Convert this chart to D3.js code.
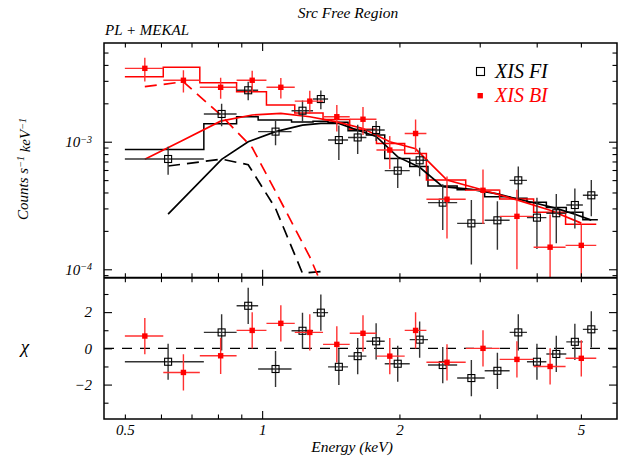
<!DOCTYPE html>
<html><head><meta charset="utf-8">
<script src="https://cdn.jsdelivr.net/npm/d3@7"></script>
<style>body{margin:0;background:#fff}svg{display:block}text{font-family:"Liberation Serif","Times New Roman","DejaVu Serif",serif;font-style:italic}</style>
</head><body>
<script>
// ---- XIS FI (black) ----
const fiE   = [0.622,0.815,0.932,1.07,1.226,1.345,1.473,1.62,1.778,1.983,2.215,2.489,2.876,3.28,3.645,4.005,4.416,4.85,5.27];
const fiLo  = [0.500,0.745,0.879,0.980,1.160,1.293,1.395,1.543,1.693,1.857,2.107,2.310,2.677,3.076,3.489,3.808,4.200,4.645,5.050];
const fiHi  = [0.745,0.879,0.980,1.160,1.293,1.395,1.543,1.693,1.857,2.107,2.310,2.677,3.076,3.489,3.808,4.200,4.645,5.050,5.447];
const fiRate= [0.732,1.65,2.53,1.20,1.75,2.16,1.03,1.08,1.235,0.593,0.715,0.333,0.229,0.242,0.498,0.254,0.275,0.319,0.380]; // x1e-3
const fiErr = [0.18,0.33,0.42,0.26,0.35,0.36,0.31,0.28,0.22,0.16,0.18,0.13,0.12,0.10,0.14,0.11,0.115,0.11,0.12];
const fiModel=[0.87,1.38,1.57,1.48,1.43,1.45,1.42,1.22,1.13,0.74,0.64,0.45,0.42,0.37,0.36,0.335,0.305,0.28,0.245];
const fiPL  = [0.271,0.728,1.0,1.2,1.35,1.39,1.39,1.23,1.1,0.76,0.63,0.445,0.423,0.39,0.354,0.328,0.30,0.27,0.243];
const fiMekal=[0.645,0.73,0.66,0.30,0.093,0.096,0.02];
const fiChi = [-0.74,0.88,2.35,-1.14,0.97,1.97,-1.02,-0.43,0.39,-0.85,0.48,-0.92,-1.64,-1.24,0.88,-0.74,-0.31,0.36,1.05];
// ---- XIS BI (red) ----
const biE   = [0.553,0.672,0.811,0.951,1.099,1.272,1.458,1.664,1.905,2.17,2.543,3.05,3.62,4.28,5.01];
const biLo  = [0.500,0.607,0.730,0.879,1.022,1.179,1.360,1.556,1.781,2.054,2.292,2.795,3.318,3.938,4.628];
const biHi  = [0.607,0.730,0.879,1.022,1.179,1.360,1.556,1.781,2.054,2.292,2.795,3.318,3.938,4.628,5.404];
const biRate= [3.76,3.03,2.67,3.03,2.67,2.08,1.57,1.50,0.86,1.16,0.354,0.416,0.260,0.149,0.154];
const biErr = [0.80,0.60,0.50,0.57,0.49,0.43,0.37,0.37,0.25,0.33,0.18,0.19,0.16,0.12,0.07];
const biModel=[3.23,3.84,2.90,2.46,1.94,1.68,1.49,1.25,0.97,0.81,0.50,0.416,0.355,0.28,0.225];
const biPL  = [0.73,1.03,1.45,1.62,1.67,1.57,1.43,1.27,1.0,0.88,0.50,0.418,0.35,0.29,0.23];
const biMekal=[2.7,2.95,1.62,0.90,0.34,0.125,0.04];
const biChi = [0.68,-1.33,-0.41,0.99,1.38,0.88,0.22,0.83,-0.43,0.99,-0.77,0.0,-0.61,-1.0,-0.55];
// ---- ticks / labels ----
const xMajor = [1];
const xMinor = [0.5,0.6,0.7,0.8,0.9,2,3,4,5];
const xLabels = [0.5,1,2,5];
const yMajor = [1e-4,1e-3];
const yMinor = [9e-5,2e-4,3e-4,4e-4,5e-4,6e-4,7e-4,8e-4,9e-4,2e-3,3e-3,4e-3,5e-3];
const chiMajor = [-2,0,2];
const chiMinor = [-3,-1,1,3];
const SC = 1e-3;

const W=621,H=460, L=104,R=617,T=43,M=277.7,B=419;
const svg = d3.select('body').append('svg').attr('width',W).attr('height',H);
const x = d3.scaleLog().domain([0.45,6.0]).range([L,R]);
const y = d3.scaleLog().domain([8.59e-5,5.94e-3]).range([M,T]);
const yc = d3.scaleLinear().domain([-3.9,3.9]).range([B,M]);

const defs = svg.append('defs');
defs.append('clipPath').attr('id','cTop').append('rect').attr('x',L).attr('y',T).attr('width',R-L).attr('height',M-T);
defs.append('clipPath').attr('id','cBot').append('rect').attr('x',L).attr('y',M).attr('width',R-L).attr('height',B-M);

const RED='#ff0000', BLK='#000';
const gTop = svg.append('g').attr('clip-path','url(#cTop)');
const gBot = svg.append('g').attr('clip-path','url(#cBot)');

function stepLine(lo,hi,v){
  const pts = lo.map((d,i)=>[x(d), y(v[i]*SC)]);
  pts.push([x(hi[hi.length-1]), y(v[v.length-1]*SC)]);
  return d3.line().curve(d3.curveStepAfter)(pts);
}
function polyLine(E,v){
  return d3.line()(v.map((d,i)=>[x(E[i]), y(d*SC)]));
}
// models
gTop.append('path').attr('d',stepLine(fiLo,fiHi,fiModel)).attr('fill','none').attr('stroke',BLK).attr('stroke-width',1.5);
gTop.append('path').attr('d',stepLine(biLo,biHi,biModel)).attr('fill','none').attr('stroke',RED).attr('stroke-width',1.5);
gTop.append('path').attr('d',polyLine(fiE,fiPL)).attr('fill','none').attr('stroke',BLK).attr('stroke-width',1.7);
gTop.append('path').attr('d',polyLine(biE,biPL)).attr('fill','none').attr('stroke',RED).attr('stroke-width',1.7);
gTop.append('path').attr('d',polyLine(fiE,fiMekal)).attr('fill','none').attr('stroke',BLK).attr('stroke-width',1.7).attr('stroke-dasharray','12,7');
gTop.append('path').attr('d',polyLine(biE,biMekal)).attr('fill','none').attr('stroke',RED).attr('stroke-width',1.7).attr('stroke-dasharray','12,7');

function dataPts(g, E, lo, hi, val, err, ys, scale, col, colBar, marker, isLog){
  const gg = g.append('g');
  E.forEach((e,i)=>{
    const v = val[i]*scale, er = err[i]*scale;
    const yv = ys(v);
    const lowV = isLog ? Math.max(v-er, 1e-7) : v-er;
    gg.append('line').attr('x1',x(lo[i])).attr('x2',x(hi[i])).attr('y1',yv).attr('y2',yv).attr('stroke',colBar).attr('stroke-width',1.4);
    gg.append('line').attr('x1',x(e)).attr('x2',x(e)).attr('y1',ys(lowV)).attr('y2',ys(v+er)).attr('stroke',colBar).attr('stroke-width',1.4);
  });
  E.forEach((e,i)=>{
    const yv = ys(val[i]*scale);
    if(marker==='open') gg.append('rect').attr('x',x(e)-3.5).attr('y',yv-3.5).attr('width',7).attr('height',7).attr('fill','none').attr('stroke',col).attr('stroke-width',1.1);
    else gg.append('rect').attr('x',x(e)-2.7).attr('y',yv-2.7).attr('width',5.4).attr('height',5.4).attr('fill',col);
  });
}
dataPts(gTop, fiE, fiLo, fiHi, fiRate, fiErr, y, SC, BLK, '#333', 'open', true);
dataPts(gTop, biE, biLo, biHi, biRate, biErr, y, SC, RED, '#ff3030', 'fill', true);

// chi panel
gBot.append('line').attr('x1',L).attr('x2',R).attr('y1',yc(0)).attr('y2',yc(0)).attr('stroke',BLK).attr('stroke-width',1.3).attr('stroke-dasharray','10,8');
const ones = fiChi.map(()=>1), onesB = biChi.map(()=>1);
dataPts(gBot, fiE, fiLo, fiHi, fiChi, ones, yc, 1, BLK, '#333', 'open', false);
dataPts(gBot, biE, biLo, biHi, biChi, onesB, yc, 1, RED, '#ff3030', 'fill', false);

// frame
svg.append('rect').attr('x',L).attr('y',T).attr('width',R-L).attr('height',B-T).attr('fill','none').attr('stroke',BLK).attr('stroke-width',1.5);
svg.append('line').attr('x1',L).attr('x2',R).attr('y1',M).attr('y2',M).attr('stroke',BLK).attr('stroke-width',2);

// ticks
function tk(axis, transform){
  svg.append('g').attr('transform',transform).call(axis.tickFormat(''))
    .call(g=>{g.select('.domain').remove(); g.selectAll('line').attr('stroke-width',1.1);});
}
[[xMajor,8],[xMinor,4.5]].forEach(([v,s])=>{
  tk(d3.axisBottom(x).tickValues(v).tickSize(-s), `translate(0,${B})`);
  tk(d3.axisBottom(x).tickValues(v).tickSize(-s), `translate(0,${M})`);
  tk(d3.axisTop(x).tickValues(v).tickSize(-s), `translate(0,${M})`);
  tk(d3.axisTop(x).tickValues(v).tickSize(-s), `translate(0,${T})`);
});
[[yMajor,8],[yMinor,4.5]].forEach(([v,s])=>{
  tk(d3.axisLeft(y).tickValues(v).tickSize(-s), `translate(${L},0)`);
  tk(d3.axisRight(y).tickValues(v).tickSize(-s), `translate(${R},0)`);
});
[[chiMajor,8],[chiMinor,4.5]].forEach(([v,s])=>{
  tk(d3.axisLeft(yc).tickValues(v).tickSize(-s), `translate(${L},0)`);
  tk(d3.axisRight(yc).tickValues(v).tickSize(-s), `translate(${R},0)`);
});

// tick labels
const fs = 15;
svg.append('g').attr('transform',`translate(0,${B})`)
  .call(d3.axisBottom(x).tickValues(xLabels).tickSize(0).tickPadding(5.5).tickFormat(d=>String(d)))
  .call(g=>{g.select('.domain').remove(); g.selectAll('text').attr('font-size',fs).attr('fill','#000');});
svg.append('g').attr('transform',`translate(${L},0)`)
  .call(d3.axisLeft(yc).tickValues(chiMajor).tickSize(0).tickPadding(12).tickFormat(d=> d<0 ? '\u2212'+(-d) : String(d)))
  .call(g=>{g.select('.domain').remove(); g.selectAll('text').attr('font-size',fs).attr('fill','#000');});
svg.append('g').attr('transform',`translate(${L},0)`)
  .call(d3.axisLeft(y).tickValues(yMajor).tickSize(0).tickPadding(12).tickFormat(''))
  .call(g=>{g.select('.domain').remove();
    g.selectAll('text').attr('font-size',fs).attr('fill','#000')
     .each(function(d){ const t=d3.select(this); t.text('10'); t.append('tspan').attr('dy','-0.45em').attr('font-size',10).text('\u2212'+Math.round(-Math.log10(d))); });});

// titles
svg.append('text').attr('x',348).attr('y',17.5).attr('text-anchor','middle').attr('font-size',15.5).text('Src Free Region');
svg.append('text').attr('x',105).attr('y',35).attr('font-size',15).text('PL + MEKAL');
svg.append('text').attr('x',352).attr('y',452).attr('text-anchor','middle').attr('font-size',15.5).text('Energy (keV)');
const yl = svg.append('text').attr('transform','translate(28,169) rotate(-90)').attr('text-anchor','middle').attr('font-size',15);
yl.append('tspan').text('Counts s');
yl.append('tspan').attr('dy','-0.45em').attr('font-size',10).text('\u22121');
yl.append('tspan').attr('dy','0.45em').text(' keV');
yl.append('tspan').attr('dy','-0.45em').attr('font-size',10).text('\u22121');
svg.append('text').attr('x',25).attr('y',353).attr('text-anchor','middle').attr('font-size',19).text('\u03c7');

// legend
svg.append('rect').attr('x',476.5).attr('y',67.5).attr('width',8).attr('height',8).attr('fill','none').attr('stroke',BLK).attr('stroke-width',1.1);
svg.append('text').attr('x',495).attr('y',77.5).attr('font-size',20).text('XIS FI');
svg.append('rect').attr('x',477.5).attr('y',93).attr('width',5.4).attr('height',5.4).attr('fill',RED);
svg.append('text').attr('x',495).attr('y',102).attr('font-size',20).attr('fill',RED).text('XIS BI');
</script>
</body></html>
